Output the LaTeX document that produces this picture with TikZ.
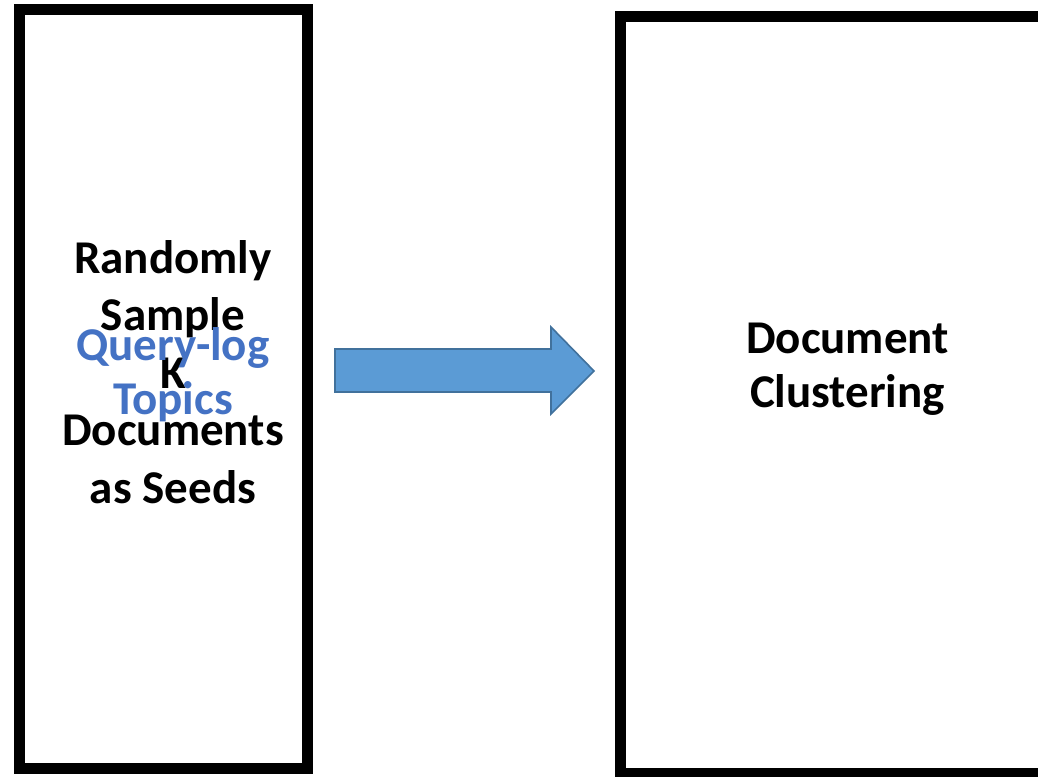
\documentclass[tikz,border=0pt]{standalone}
\usepackage{fontspec}
\setmainfont{Carlito}
\definecolor{arrowfill}{HTML}{5B9BD5}
\definecolor{arrowline}{HTML}{41719C}
\definecolor{qblue}{HTML}{4472C4}
\begin{document}
\begin{tikzpicture}[x=1pt,y=-1pt,
  bigbox/.style={draw=black,line width=11pt,fill=white,rectangle,inner sep=0pt},
  lbl/.style={align=center,font=\bfseries\fontsize{47}{57.5}\selectfont,inner sep=0pt}]
\useasboundingbox (0,0) rectangle (1038,776);
\fill[white] (0,0) rectangle (1038,776);
\node[bigbox,minimum width=288pt,minimum height=758.5pt] (left) at (163.5,388.75) {};
\node[bigbox,minimum width=440pt,minimum height=756pt] (right) at (840,395) {};
\draw[fill=arrowfill,draw=arrowline,line width=1.6pt,line join=miter]
  (335,349) -- (551,349) -- (551,327) -- (594,371) -- (551,414) -- (551,392) -- (335,392) -- cycle;
\node[lbl,text=black] (ltext) at (173,372) {Randomly\\Sample\\K\\Documents\\as Seeds};
\node[lbl,text=qblue,font=\bfseries\fontsize{47}{54}\selectfont] (btext) at (173,375) {Query-log\\Topics};
\node[lbl,text=black,font=\bfseries\fontsize{47}{54}\selectfont] (rtext) at (847.5,369) {Document\\Clustering};
\end{tikzpicture}
\end{document}
